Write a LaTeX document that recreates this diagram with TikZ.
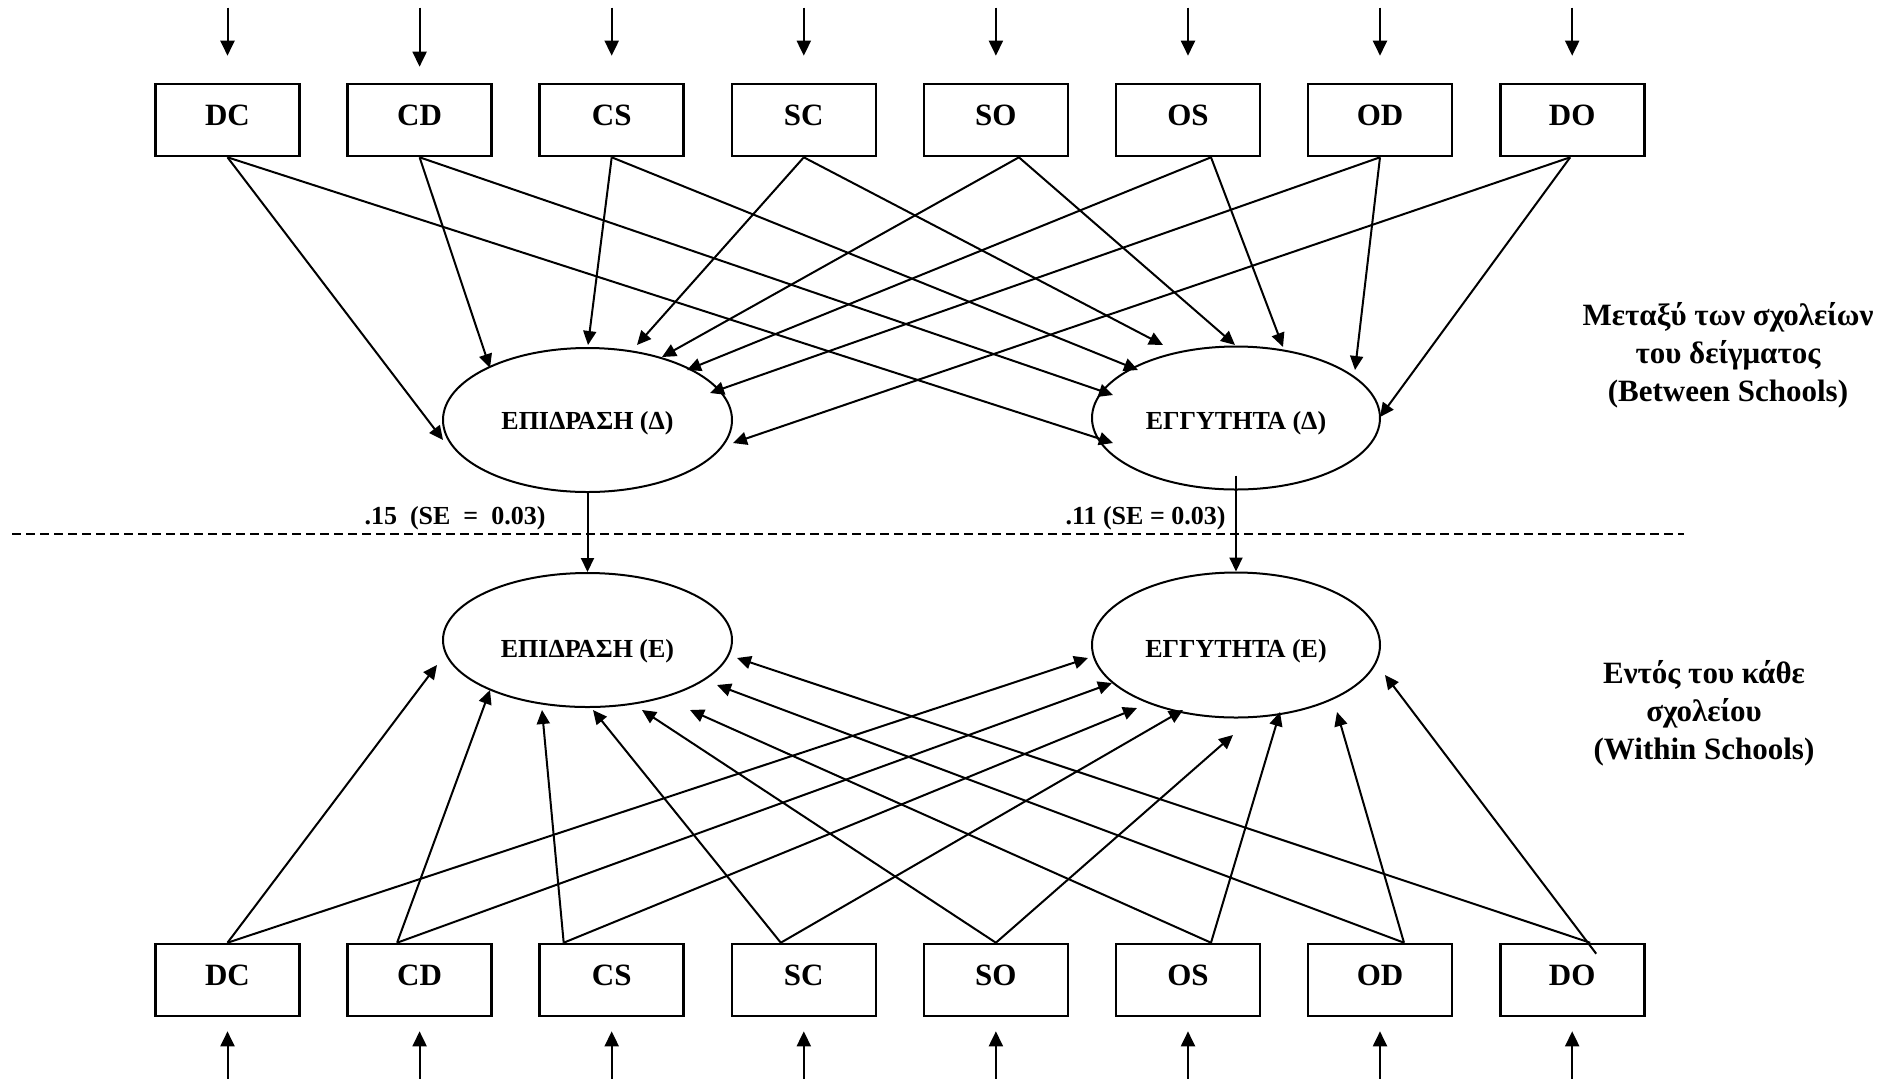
\documentclass[tikz,border=0pt]{standalone}
\usepackage{fontspec}
\setmainfont{Liberation Serif}
\usetikzlibrary{arrows.meta,shapes.geometric}
\tikzset{
  obsbox/.style={draw, line width=1.3pt, minimum width=72pt, minimum height=36pt,
    inner sep=0pt, text height=10.5pt, text depth=5pt,
    font=\fontsize{15.5}{18}\selectfont\bfseries},
  latent/.style={draw, ellipse, line width=1pt, inner sep=0pt,
    minimum width=144.5pt, minimum height=72pt},
  lattext/.style={font=\fontsize{13}{15}\selectfont\bfseries, inner sep=0pt,
    text height=9pt, text depth=0pt},
  effect/.style={line width=1pt, -{Triangle[length=7pt,width=6.5pt]}},
  resid/.style={line width=1pt, -{Triangle[length=7.5pt,width=7pt]}},
  coef/.style={font=\fontsize{13}{15}\selectfont\bfseries, inner sep=0pt,
    text height=9pt, text depth=0pt},
  sidetext/.style={align=center, inner sep=0pt, font=\fontsize{15.5}{19}\selectfont\bfseries},
  divider/.style={line width=1.3pt, dash pattern=on 4.5pt off 2.5pt}
}
\begin{document}
\begin{tikzpicture}[x=0.5pt, y=-0.5pt]
\useasboundingbox (0,0) rectangle (1903,1078);

% observed indicators, between-schools row (top) and within-schools row (bottom)
\foreach \n/\x in {DC/227.5, CD/419.6, CS/611.7, SC/803.8, SO/995.9, OS/1188, OD/1380, DO/1572.2} {
  \node[obsbox] (t\n) at (\x,120) {\n};
  \node[obsbox] (b\n) at (\x,980) {\n};
}

% latent factors and their names
\node[latent] (eTL) at (587.5,420) {};
\node[latent, minimum width=144pt, minimum height=71.5pt] (eTR) at (1236,418) {};
\node[latent, minimum height=67pt] (eBL) at (587.5,640) {};
\node[latent, minimum width=144pt, minimum height=72.5pt] (eBR) at (1236,645) {};
\node[lattext] (eTLtext) at (eTL.center) {ΕΠΙΔΡΑΣΗ (Δ)};
\node[lattext] (eTRtext) at ([yshift=-1pt]eTR.center) {ΕΓΓΥΤΗΤΑ (Δ)};
\node[lattext] (eBLtext) at ([yshift=-4pt]eBL.center) {ΕΠΙΔΡΑΣΗ (Ε)};
\node[lattext] (eBRtext) at ([yshift=-1.5pt]eBR.center) {ΕΓΓΥΤΗΤΑ (Ε)};

% error terms on the indicators
\foreach \n in {DC,CS,SC,SO,OS,OD,DO}
  \draw[resid] ([yshift=37.5pt]t\n.north) -- ([yshift=13.5pt]t\n.north);
\draw[resid] ([yshift=37.5pt]tCD.north) -- ([yshift=8pt]tCD.north);
\foreach \n in {DC,CD,CS,SC,SO,OS,OD,DO}
  \draw[resid] ([yshift=-33pt]b\n.south) -- ([yshift=-7pt]b\n.south);

% between-schools loadings
\foreach \n/\s/\ax/\ay/\bx/\by in {
    DC/0/-144.5/20/-123/25,
    CD/0/-97.5/-52/-123/-23,
    CS/0/0.5/-75/-98/-48,
    SC/0/49.5/-75/-73/-73,
    SO/11.5/74.5/-63/-1/-73,
    OS/11.5/99.5/-50/47/-71,
    OD/0/122.5/-27/119/-48,
    DO/-1/145.5/23/144/-1} {
  \draw[effect] ([xshift=\s pt]t\n.south) -- ([shift={(\ax,\ay)}]eTL.center);
  \draw[effect] ([xshift=\s pt]t\n.south) -- ([shift={(\bx,\by)}]eTR.center);
}

% within-schools loadings
\foreach \n/\s/\ax/\ay/\bx/\by in {
    DC/0/-150.5/25/-148/13,
    CD/-11.25/-97.5/50/-124/38,
    CS/-24/-45.5/70/-99/63,
    SC/-11.5/5.5/70/-53/65,
    SO/0/54.5/70/-3/90,
    OS/11.5/102.5/70/44/67,
    OD/12/129.5/45/101/67} {
  \draw[effect] ([xshift=\s pt]b\n.north) -- ([shift={(\ax,\ay)}]eBL.center);
  \draw[effect] ([xshift=\s pt]b\n.north) -- ([shift={(\bx,\by)}]eBR.center);
}
\draw[effect] ([xshift=9pt]bDO.north) -- ([shift={(149.5,18)}]eBL.center);
\draw[effect] ([xshift=12pt,yshift=-5.5pt]bDO.north) -- ([shift={(149,30)}]eBR.center);

% cross-level paths
\draw[effect] (eTL.south) -- (eBL.north);
\draw[effect] ([yshift=7.5pt]eTR.south) -- (eBR.north);

% level divider
\draw[divider] (12,534) -- (1684,534);

% coefficients
\node[coef] (coefL) at (455,515) {.15\ \ (SE\ \ =\ \ 0.03)};
\node[coef] (coefR) at (1145.5,515) {.11 (SE = 0.03)};

% level captions
\node[sidetext] (between) at (1728,355) {Μεταξύ των σχολείων\\του δείγματος\\(Between Schools)};
\node[sidetext] (within) at (1704,713) {Εντός του κάθε\\σχολείου\\(Within Schools)};
\end{tikzpicture}
\end{document}
